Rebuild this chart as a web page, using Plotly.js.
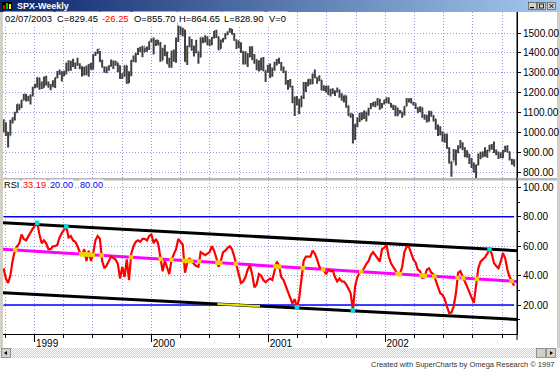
<!DOCTYPE html>
<html><head><meta charset="utf-8">
<script src="https://cdn.plot.ly/plotly-3.0.1.min.js"></script>
<style>html,body{margin:0;padding:0;background:#fff;overflow:hidden}#chart{width:560px;height:369px}</style>
</head><body><div id="chart"></div>
<script>
// ---- data (weekly SPX bars, Fridays starting 1998-09-25) ----
const firstDate = '1998-09-25';
const firstOpen = 1028;
const close = [
1044,1002,984,1056,1070,1098,1141,1125,1163,1192,1176,1166,1188,1226,1229,
1275,1243,1225,1279,1239,1230,1240,1238,1275,1294,1299,1282,1293,1348,1319,1356,1335,1346,1338,1330,1302,1327,1293,1342,1316,1391,1403,1418,1356,1329,1313,1327,1336,1348,1357,1351,1335,1277,1282,1336,1247,1301,1362,1370,1397,1422,1417,1433,1417,1421,1458,1469,
1441,1465,1441,1360,1424,1387,1346,1333,1409,1395,1464,1527,1499,1516,1357,1434,1452,1433,1420,1406,1378,1478,1457,1464,1441,1455,1478,1510,1481,1419,1463,1471,1491,1507,1520,1495,1465,1449,1436,1408,1374,1396,1379,1427,1366,1367,1341,1315,1369,1312,1305,1320,
1298,1319,1342,1355,1349,1315,1302,1246,1234,1233,1150,1139,1160,1128,1183,1242,1234,1267,1245,1291,1277,1260,1265,1214,1225,1224,1190,1215,1210,1205,1214,1190,1162,1185,1134,1085,1093,966,1041,1071,1092,1073,1105,1087,1120,1138,1150,1139,1167,1123,1144,1161,
1173,1146,1128,1133,1122,1096,1105,1089,1131,1164,1166,1149,1147,1122,1111,1125,1077,1073,1054,1106,1083,1067,1027,1007,989,990,989,921,847,852,864,908,928,940,916,893,889,846,827,801,835,885,897,900,895,910,930,936,907,889,895,875,
908,927,901,861,855.70,829.45];
const high = [
1066,1051,1002,1063,1076,1104,1142,1142,1163,1193,1193,1184,1190,1229,1245,
1278,1275,1256,1280,1285,1256,1244,1262,1276,1309,1317,1308,1310,1351,1363,1360,1371,1352,1375,1348,1333,1330,1337,1344,1350,1392,1404,1420,1410,1365,1332,1332,1337,1367,1362,1360,1351,1336,1298,1337,1336,1308,1364,1387,1399,1425,1431,1435,1427,1432,1458,1473,
1478,1465,1465,1455,1425,1441,1407,1375,1410,1417,1477,1553,1534,1527,1516,1436,1482,1470,1436,1466,1407,1478,1477,1489,1484,1469,1480,1510,1517,1482,1468,1475,1499,1508,1525,1520,1500,1467,1463,1454,1408,1408,1398,1433,1434,1395,1367,1363,1376,1380,1312,1340,
1347,1327,1356,1369,1376,1354,1331,1310,1263,1268,1233,1180,1183,1169,1183,1253,1253,1267,1268,1296,1316,1278,1287,1264,1237,1234,1236,1219,1222,1211,1226,1214,1197,1186,1185,1135,1096,1092,1042,1075,1099,1101,1110,1104,1124,1148,1152,1157,1173,1168,1148,1164,
1176,1175,1148,1139,1135,1124,1113,1104,1131,1173,1172,1173,1154,1147,1126,1131,1125,1091,1088,1107,1106,1086,1067,1040,1030,1005,993,993,925,853,916,913,935,962,950,925,910,892,871,848,838,894,902,903,925,911,937,941,954,913,903,899,
911,932,935,904,867,864.65];
const low = [
1000,981,923,984,1045,1060,1098,1111,1123,1161,1155,1156,1140,1180,1222,
1226,1215,1218,1225,1236,1224,1212,1227,1223,1272,1290,1256,1282,1293,1307,1310,1329,1319,1335,1318,1281,1286,1288,1280,1315,1316,1385,1395,1354,1327,1300,1298,1310,1330,1319,1335,1302,1268,1269,1281,1245,1248,1283,1354,1352,1390,1403,1378,1402,1406,1415,1454,
1392,1435,1438,1356,1363,1385,1345,1325,1325,1355,1351,1455,1490,1482,1356,1339,1428,1411,1382,1398,1346,1378,1449,1453,1440,1433,1438,1472,1475,1413,1421,1452,1469,1490,1502,1493,1461,1420,1425,1400,1341,1342,1329,1379,1365,1345,1313,1306,1313,1308,1254,1300,
1274,1280,1310,1337,1345,1310,1299,1239,1214,1226,1148,1082,1137,1091,1128,1168,1203,1232,1240,1244,1272,1245,1258,1211,1208,1201,1189,1180,1193,1183,1200,1174,1160,1150,1124,1084,1073,944,962,1026,1052,1061,1067,1054,1085,1117,1130,1126,1135,1114,1122,1140,
1146,1144,1125,1113,1081,1081,1095,1074,1085,1131,1150,1146,1135,1118,1096,1102,1074,1063,1049,1054,1079,1055,1013,981,985,952,947,917,843,776,858,833,895,918,910,874,872,840,820,798,768,834,865,873,877,872,904,912,896,884,866,870,
869,901,898,859,837,828.90];
const rsi = [
45,38,35,40,50,57,60,62,68,65,
64,67,70,72,74,76,68,62,64,62,
58,58,60,60,61,66,69,71,73.5,66,
67,64,63,60,56,54,58,50,57,50,
55,64,67,65,50,45,47,50,53,52,
51,48,38,46,39,51,37,55,60,63,
64,63,65,65,64,67,68,62,65,62,
52,43,50,45,41,51,54,58,65,63,
61,42,49,52,49.5,48,46.5,46,56,55,
54,55,56,60,57,52,46,50,56,57,
59,60,58,53,46,41,35,36,39,44,
47,41,32,34,41,40,37,35.5,37,38,
37,44,49.5,47,39,37,33,29,25,21,
24,18.4,24.6,36,50,53,53,53,57,55,
51,46,45,44,41,44,43,43.5,39,36,
38,36,36,34,31,28,16.4,33,39,42,
43,45,48,50,54,56,54,51.5,49.5,58,
59,60.8,53,48.4,46,44,41,41,46,56,
59.8,59.7,56,51,49,44,43,38.5,39,44,
45,42,41,37,32.5,28,27,24,19,14.5,
14.8,19,28,42,43,39,36,32.5,28,25,
21.5,34,45,49.5,51,52.5,55,58,55,48.5,
46.5,45,49.5,55.3,52,44,39,36,33.19];
const rsiLevels = [20, 80];
const channelDates = ['1998-09-23', '2003-02-16'];
const upperChannel = [76, 57];
const midChannel = [58, 36];
const lowerChannel = [28.3, 10.2];
const yearTicks = ['1999-01-01', '2000-01-01', '2001-01-01', '2002-01-01'];
const yearLabels = ['1999', '2000', '2001', '2002'];
const priceTicks = [800, 900, 1000, 1100, 1200, 1300, 1400, 1500];
const rsiTicks = [20, 40, 60, 80, 100];
const infoTexts = ['02/07/2003', 'C=829.45', '-26.25', 'O=855.70', 'H=864.65', 'L=828.90', 'V=0'];
const rsiTexts = ['RSI', '33.19', '20.00', '80.00'];

// ---- derived ----
const DAY = 86400000;
const t0 = Date.parse(firstDate);
const dates = close.map((_, i) => new Date(t0 + i * 7 * DAY).toISOString().slice(0, 10));
const open = close.map((c, i) => i === 0 ? firstOpen : close[i - 1]);
const tA = Date.parse(channelDates[0]), tB = Date.parse(channelDates[1]);
const lineAt = (v, t) => v[0] + (v[1] - v[0]) * (t - tA) / (tB - tA);
const crossX = [], crossY = [], touchX = [], touchY = [];
for (let i = 0; i < rsi.length; i++) {
  const ta = Date.parse(dates[i]);
  if (rsi[i] >= lineAt(upperChannel, ta) - 0.8 || rsi[i] <= lineAt(lowerChannel, ta) + 0.8) { touchX.push(dates[i]); touchY.push(rsi[i]); }
  if (i === rsi.length - 1) break;
  const tb = Date.parse(dates[i + 1]);
  const da = rsi[i] - lineAt(midChannel, ta), db = rsi[i + 1] - lineAt(midChannel, tb);
  if (da * db < 0) {
    const f = da / (da - db);
    crossX.push(new Date(ta + f * (tb - ta)).toISOString());
    crossY.push(rsi[i] + f * (rsi[i + 1] - rsi[i]));
  }
}
// where the lower channel line overlaps the 20 level line
const fLo = (lowerChannel[0] - rsiLevels[0]) / (lowerChannel[0] - lowerChannel[1]);
const dF = 0.75 / (lowerChannel[0] - lowerChannel[1]);
const ovX = [new Date(tA + (fLo - dF) * (tB - tA)).toISOString(), new Date(tA + (fLo + dF) * (tB - tA)).toISOString()];

// ---- geometry helpers (pixels -> paper) ----
const W = 560, H = 369;
const px = x => x / W, py = y => 1 - y / H;
const GRID = '#9a9ae0';
const GDASH = '1px,2px';
const FONT = 'Arial, "Liberation Sans", sans-serif';

const traces = [
  {type: 'ohlc', x: dates, open: open, high: high, low: low, close: close, xaxis: 'x', yaxis: 'y',
   increasing: {line: {color: '#404040', width: 2}}, decreasing: {line: {color: '#404040', width: 2}},
   tickwidth: 0.25, hoverinfo: 'skip'},
  {type: 'scatter', mode: 'lines', x: [dates[0], dates[dates.length - 1]], y: [rsiLevels[1], rsiLevels[1]], xaxis: 'x', yaxis: 'y2', line: {color: '#0000ff', width: 1.5}, hoverinfo: 'skip'},
  {type: 'scatter', mode: 'lines', x: [dates[0], dates[dates.length - 1]], y: [rsiLevels[0], rsiLevels[0]], xaxis: 'x', yaxis: 'y2', line: {color: '#0000ff', width: 1.5}, hoverinfo: 'skip'},
  {type: 'scatter', mode: 'lines', x: channelDates, y: midChannel, xaxis: 'x', yaxis: 'y2', line: {color: '#ff00ff', width: 3}, hoverinfo: 'skip'},
  {type: 'scatter', mode: 'lines', x: channelDates, y: upperChannel, xaxis: 'x', yaxis: 'y2', line: {color: '#000000', width: 3}, hoverinfo: 'skip'},
  {type: 'scatter', mode: 'lines', x: channelDates, y: lowerChannel, xaxis: 'x', yaxis: 'y2', line: {color: '#000000', width: 3}, hoverinfo: 'skip'},
  {type: 'scatter', mode: 'lines', x: ovX, y: [lineAt(lowerChannel, Date.parse(ovX[0])), lineAt(lowerChannel, Date.parse(ovX[1]))], xaxis: 'x', yaxis: 'y2', line: {color: '#e8e800', width: 2}, hoverinfo: 'skip'},
  {type: 'scatter', mode: 'lines', x: dates, y: rsi, xaxis: 'x', yaxis: 'y2', line: {color: '#ff0000', width: 2.2}, hoverinfo: 'skip'},
  {type: 'scatter', mode: 'markers', x: crossX, y: crossY, xaxis: 'x', yaxis: 'y2', marker: {symbol: 'square', size: 4.5, color: '#f0d000', line: {width: 0}}, hoverinfo: 'skip'},
  {type: 'scatter', mode: 'markers', x: touchX, y: touchY, xaxis: 'x', yaxis: 'y2', marker: {symbol: 'square', size: 4.5, color: '#00e0e0', line: {width: 0}}, hoverinfo: 'skip'}
];

const titleSvg = "<svg xmlns='http://www.w3.org/2000/svg' width='560' height='12'><defs><linearGradient id='g'><stop offset='0' stop-color='#0a246a'/><stop offset='1' stop-color='#a6caf0'/></linearGradient></defs>" +
  "<rect width='560' height='12' fill='url(#g)'/>" +
  "<rect x='2' y='2' width='10' height='8' fill='#000'/><rect x='3' y='5' width='2' height='4' fill='#f00'/><rect x='6' y='3' width='2' height='6' fill='#0c0'/><rect x='9' y='4' width='2' height='5' fill='#ff0'/>" +
  "<g fill='#d4d0c8' stroke='#404040' stroke-width='0.6'><rect x='528.5' y='2.5' width='8' height='7'/><rect x='537.5' y='2.5' width='8' height='7'/><rect x='547.5' y='2.5' width='8' height='7'/></g>" +
  "<rect x='530' y='7' width='4' height='1.2' fill='#000'/><rect x='539.5' y='4' width='4' height='4' fill='none' stroke='#000' stroke-width='0.8'/>" +
  "<path d='M549.5 4 L553.5 8 M553.5 4 L549.5 8' stroke='#000' stroke-width='1'/></svg>";
const scrollSvg = "<svg xmlns='http://www.w3.org/2000/svg' width='560' height='10'><defs><pattern id='p' width='2' height='2' patternUnits='userSpaceOnUse'><rect width='2' height='2' fill='#d4d0c8'/><rect width='1' height='1' fill='#fff'/><rect x='1' y='1' width='1' height='1' fill='#fff'/></pattern></defs>" +
  "<rect width='560' height='10' fill='url(#p)'/>" +
  "<g fill='#d4d0c8' stroke='#808080' stroke-width='0.8'><rect x='1.5' y='0.5' width='9' height='9'/><rect x='536.5' y='0.5' width='9' height='9'/><rect x='546.5' y='0.5' width='9' height='9'/></g>" +
  "<path d='M7 3 L4 5 L7 7 Z' fill='#000'/><path d='M550 3 L553 5 L550 7 Z' fill='#000'/></svg>";

const infoX = [3, 55, 100, 131.5, 176.5, 221.5, 266.5];
const infoColors = ['#000', '#000', '#ff0000', '#000', '#000', '#000', '#000'];
const annotations = [];
infoTexts.forEach((t, i) => annotations.push({xref: 'paper', yref: 'paper', x: px(infoX[i]), y: py(18), xanchor: 'left', yanchor: 'middle', text: t, showarrow: false, bgcolor: '#ffffff', borderpad: 1, font: {family: FONT, size: 9.4, color: infoColors[i]}}));
const rsiX = [3, 22, 49, 79];
const rsiColors = ['#000', '#ff0000', '#0000ff', '#0000ff'];
rsiTexts.forEach((t, i) => annotations.push({xref: 'paper', yref: 'paper', x: px(rsiX[i]), y: py(185), xanchor: 'left', yanchor: 'middle', text: t, showarrow: false, bgcolor: '#ffffff', borderpad: 0, font: {family: FONT, size: 9.2, color: rsiColors[i]}}));
annotations.push({xref: 'paper', yref: 'paper', x: px(15), y: py(6), xanchor: 'left', yanchor: 'middle', text: '<b>SPX-Weekly</b>', showarrow: false, font: {family: FONT, size: 9, color: '#ffffff'}});
annotations.push({xref: 'paper', yref: 'paper', x: px(557), y: py(364), xanchor: 'right', yanchor: 'middle', text: 'Created with SuperCharts by Omega Research \u00a9 1997', showarrow: false, font: {family: FONT, size: 7.5, color: '#333333'}});

const layout = {
  width: W, height: H, margin: {l: 0, r: 0, t: 0, b: 0}, paper_bgcolor: '#ffffff', plot_bgcolor: '#ffffff',
  showlegend: false, dragmode: false,
  xaxis: {type: 'date', domain: [px(3), px(517)], range: [channelDates[0], channelDates[1]], anchor: 'y2',
    rangeslider: {visible: false}, tickmode: 'array', tickvals: yearTicks, ticktext: yearLabels,
    ticks: 'outside', ticklen: 7, tickcolor: '#000', tickwidth: 1, ticklabelposition: 'outside right',
    tickfont: {family: FONT, size: 10, color: '#000'}, showline: true, linecolor: '#000', linewidth: 1, mirror: false,
    showgrid: true, gridcolor: GRID, griddash: GDASH, gridwidth: 1, zeroline: false,
    minor: {tickmode: 'linear', tick0: '1999-01-01', dtick: 'M3', ticks: 'outside', ticklen: 3, tickcolor: '#000', showgrid: true, gridcolor: GRID, griddash: GDASH, gridwidth: 1}},
  yaxis: {domain: [py(178), py(12)], range: [770, 1606], side: 'right', anchor: 'x', tickmode: 'array', tickvals: priceTicks, tickformat: '.2f',
    ticks: 'outside', ticklen: 3, tickcolor: '#000', tickfont: {family: FONT, size: 10, color: '#000'}, showline: true, linecolor: '#000',
    showgrid: true, gridcolor: GRID, griddash: GDASH, gridwidth: 1, zeroline: false, fixedrange: true},
  yaxis2: {domain: [py(334), py(180)], range: [0.26, 105.1], side: 'right', anchor: 'x', tickmode: 'array', tickvals: rsiTicks, tickformat: '.2f',
    ticks: 'outside', ticklen: 3, tickcolor: '#000', tickfont: {family: FONT, size: 10, color: '#000'}, showline: true, linecolor: '#000',
    showgrid: true, gridcolor: GRID, griddash: GDASH, gridwidth: 1, zeroline: false,
    minor: {tickmode: 'linear', tick0: 0, dtick: 10, ticks: 'outside', ticklen: 2, tickcolor: '#000', showgrid: false}},
  shapes: [
    {type: 'rect', xref: 'paper', yref: 'paper', x0: 0, x1: px(3), y0: py(348), y1: py(11), fillcolor: '#d4d0c8', line: {width: 0}, layer: 'below'},
    {type: 'rect', xref: 'paper', yref: 'paper', x0: px(557), x1: 1, y0: py(348), y1: py(11), fillcolor: '#d4d0c8', line: {width: 0}, layer: 'below'},
    {type: 'rect', xref: 'paper', yref: 'paper', x0: px(3), x1: px(557), y0: py(180.5), y1: py(178), fillcolor: '#b8b8b8', line: {width: 0}, layer: 'above'},
    {type: 'line', xref: 'paper', yref: 'paper', x0: px(517), x1: px(517), y0: py(12), y1: py(340), line: {color: '#000', width: 1}, layer: 'above'}
  ],
  images: [
    {source: 'data:image/svg+xml;charset=utf-8,' + encodeURIComponent(titleSvg), xref: 'paper', yref: 'paper', x: 0, y: 1, sizex: 1, sizey: 12 / H, xanchor: 'left', yanchor: 'top', sizing: 'stretch', layer: 'above'},
    {source: 'data:image/svg+xml;charset=utf-8,' + encodeURIComponent(scrollSvg), xref: 'paper', yref: 'paper', x: 0, y: py(348), sizex: 1, sizey: 10 / H, xanchor: 'left', yanchor: 'top', sizing: 'stretch', layer: 'above'}
  ],
  annotations: annotations
};
Plotly.newPlot('chart', traces, layout, {displayModeBar: false, staticPlot: true});
</script></body></html>
